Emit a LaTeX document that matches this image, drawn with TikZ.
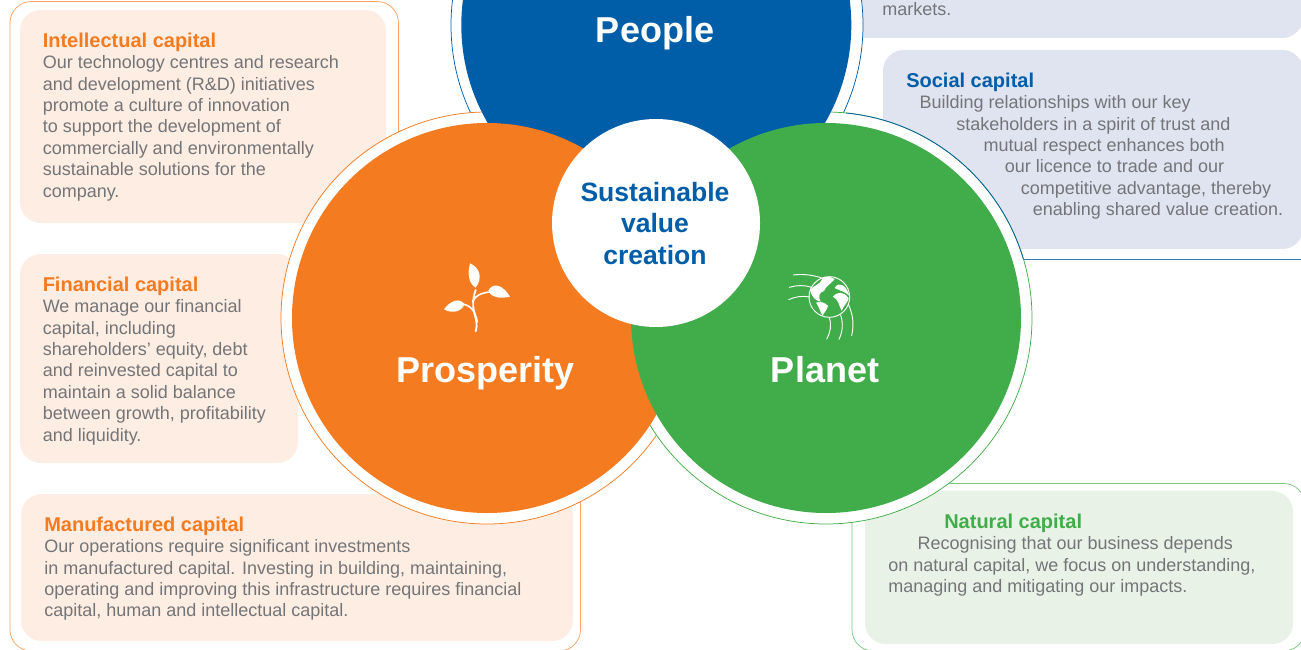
\documentclass[tikz,border=0pt]{standalone}
\usepackage{fontspec}
\setmainfont{Liberation Sans}
\definecolor{orangeC}{HTML}{F57B20}
\definecolor{blueC}{HTML}{005DA8}
\definecolor{greenC}{HTML}{41AD4A}
\definecolor{orangeP}{HTML}{FEEDE2}
\definecolor{blueP}{HTML}{E0E4F0}
\definecolor{greenP}{HTML}{E8F2E7}
\definecolor{bodyC}{HTML}{747578}
\tikzset{
  panel/.style={rounded corners=15.5pt,draw=none},
  outline/.style={line width=0.55pt},
  ring/.style={fill=white,line width=0.55pt},
  body/.style={anchor=north west,inner sep=0pt,align=left,text=bodyC,font=\fontsize{13.5}{16.05}\selectfont},
  circlename/.style={anchor=base,inner sep=0pt,text=white,font=\fontsize{27}{30}\selectfont\bfseries},
  icon/.style={white,line width=1pt,line cap=round},
}
\newcommand{\captitle}[2]{\textcolor{#1}{\fontsize{15}{16.05}\selectfont\bfseries #2}}
\begin{document}
\begin{tikzpicture}[x=0.75pt,y=0.75pt,yscale=-1,xscale=1]
\useasboundingbox (0,0) rectangle (1301,649);
\clip (0,0) rectangle (1301,649);

%Outlines
\draw [outline,orangeC!70,rounded corners=16pt] (10,1.5) -- (398.5,1.5) -- (398.5,300) -- (580.5,300) -- (580.5,651) -- (10,651) -- cycle;
\draw [outline,greenC!70,rounded corners=16pt] (852,483.5) -- (1305,483.5) -- (1305,651) -- (852,651) -- cycle;
\draw [outline,blueC!80] (1000,259.5) -- (1301,259.5);

%Panels
\fill [panel,orangeP] (20,10) rectangle (386,223);
\fill [panel,orangeP] (20,254) rectangle (298,463);
\fill [panel,orangeP] (21,494) rectangle (573,641);
\fill [panel,blueP] (840,-60) rectangle (1303,38);
\fill [panel,blueP] (883,50) rectangle (1303,249);
\fill [panel,greenP] (865,491) rectangle (1293,644);

%Rings
\draw [ring,draw=blueC] (657,25) circle (206);
\draw [ring,draw=orangeC] (487,318) circle (206);
\draw [ring,draw=greenC] (826,318) circle (206);
\draw [outline,blueC] (846.1,113) arc [start angle=-84.4,end angle=-16.6,radius=206];

%Discs
\fill [blueC] (656.3,25) circle (195);
\fill [orangeC] (487,318) circle (195);
\fill [greenC] (826,318) circle (195);
\fill [white] (656,223) circle (104);

%Sprout
\begin{scope}[shift={(420,240)},scale=1/3]
\fill [white] (150,70) .. controls (178,82) and (190,112) .. (167,143) .. controls (145,130) and (142,100) .. (150,70) -- cycle;
\fill [white] (72,208) .. controls (90,182) and (118,172) .. (133,192) .. controls (128,212) and (100,224) .. (72,208) -- cycle;
\fill [white] (270,170) .. controls (250,135) and (218,125) .. (205,152) .. controls (215,175) and (245,176) .. (270,170) -- cycle;
\draw [icon,line width=1.4pt] (167,274) .. controls (180,235) and (145,215) .. (167,150);
\draw [icon,line width=1.2pt] (172,245) .. controls (165,210) and (150,195) .. (125,192);
\draw [icon,line width=1.2pt] (158,185) .. controls (170,160) and (195,155) .. (235,155);
\end{scope}

%Globe
\begin{scope}[shift={(770,255)},scale=1/3]
\draw [icon,line width=0.7pt] (178,126) circle (61);
\fill [white] (120,105) .. controls (135,88) and (150,90) .. (158,70) .. controls (170,62) and (185,66) .. (194,72) .. controls (182,88) and (168,92) .. (162,108) .. controls (150,112) and (142,120) .. (152,140) .. controls (135,138) and (124,122) .. (120,105) -- cycle;
\fill [white] (138,143) .. controls (150,138) and (165,143) .. (174,152) .. controls (172,165) and (162,172) .. (158,182) .. controls (150,172) and (148,155) .. (138,143) -- cycle;
\fill [white] (188,125) .. controls (200,110) and (222,108) .. (236,130) .. controls (232,145) and (222,150) .. (215,167) .. controls (205,150) and (208,135) .. (188,125) -- cycle;
\fill [white] (194,99) .. controls (205,78) and (228,88) .. (238,122) .. controls (225,110) and (210,107) .. (194,99) -- cycle;
\draw [icon,line width=0.7pt] (70,60) .. controls (100,56) and (130,60) .. (158,70);
\draw [icon,line width=0.7pt] (58,97) .. controls (80,90) and (105,90) .. (125,97);
\draw [icon,line width=0.7pt] (56,134) .. controls (75,125) and (95,122) .. (118,126);
\draw [icon,line width=0.7pt] (178,188) .. controls (185,210) and (182,230) .. (170,252);
\draw [icon,line width=0.7pt] (212,180) .. controls (220,205) and (218,230) .. (207,253);
\draw [icon,line width=0.7pt] (235,148) .. controls (250,180) and (252,210) .. (245,242);
\end{scope}

% Text Node
\node (people) [circlename] at (655,43) {People};
\node (prosperity) [circlename] at (485.5,382) {Prosperity};
\node (planet) [circlename] at (825,382) {Planet};
\node (centre) [align=center,inner sep=0pt,text=blueC,font=\fontsize{19.9}{23.6}\selectfont\bfseries] at (655,223.5) {Sustainable\\value\\creation};

% Text Node
\node (intellectual) [body] at (42.5,32.5) {\captitle{orangeC}{Intellectual capital}\\Our technology centres and research\\and development (R\&D) initiatives\\promote a culture of innovation\\to support the development of\\commercially and environmentally\\sustainable solutions for the\\company.};
\node (financial) [body] at (42.5,276.5) {\captitle{orangeC}{Financial capital}\\We manage our financial\\capital, including\\shareholders’ equity, debt\\and reinvested capital to\\maintain a solid balance\\between growth, profitability\\and liquidity.};
\node (manufactured) [body] at (44,516.5) {\captitle{orangeC}{Manufactured capital}\\Our operations require significant investments\\in manufactured capital. Investing in building, maintaining,\\operating and improving this infrastructure requires financial\\capital, human and intellectual capital.};
\node (markets) [body] at (882,2) {markets.};
\node (social) [body] at (906,72.5) {\captitle{blueC}{Social capital}\\\hspace*{10pt}Building relationships with our key\\\hspace*{37.5pt}stakeholders in a spirit of trust and\\\hspace*{58pt}mutual respect enhances both\\\hspace*{74pt}our licence to trade and our\\\hspace*{86pt}competitive advantage, thereby\\\hspace*{95pt}enabling shared value creation.};
\node (natural) [body] at (888,513.5) {\hspace*{42pt}\captitle{greenC}{Natural capital}\\\hspace*{22pt}Recognising that our business depends\\on natural capital, we focus on understanding,\\managing and mitigating our impacts.};
\end{tikzpicture}
\end{document}
